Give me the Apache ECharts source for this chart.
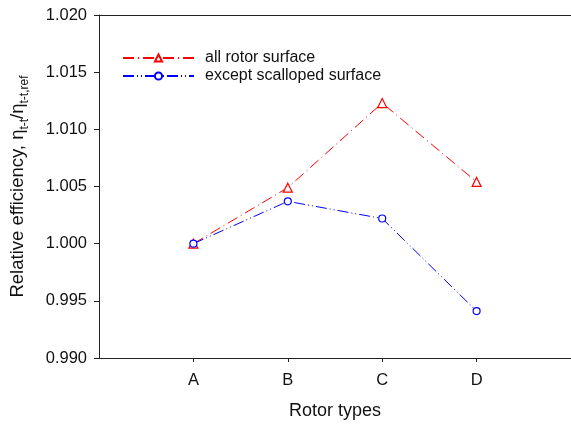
<!DOCTYPE html>
<html><head><meta charset="utf-8">
<script src="https://cdn.jsdelivr.net/npm/echarts@6/dist/echarts.min.js"></script>
<style>html,body{margin:0;padding:0;background:#fff;overflow:hidden}#c{width:571px;height:425px}</style>
</head><body><div id="c"></div>
<script>
const categories = ['A', 'B', 'C', 'D'];
const allRotor = [1.0000, 1.0049, 1.0123, 1.0054];
const exceptScalloped = [1.0000, 1.0037, 1.0022, 0.9941];
const yTicks = ['0.990', '0.995', '1.000', '1.005', '1.010', '1.015', '1.020'];
const seriesNames = ['all rotor surface', 'except scalloped surface'];

const toPts = arr => arr.map((v, i) => [i + 1, v]);
const font = 'Liberation Sans, Arial, sans-serif';
const chart = echarts.init(document.getElementById('c'), null, {renderer: 'canvas'});
chart.setOption({
  animation: false,
  backgroundColor: '#fff',
  grid: {left: 97, top: 15, width: 476, height: 344},
  legend: {
    left: 117, top: 45, orient: 'vertical', itemGap: 2, itemWidth: 71, itemHeight: 9,
    textStyle: {fontFamily: font, fontSize: 16, color: '#111', padding: [0, 0, 0, 6]},
    data: seriesNames
  },
  xAxis: [{
    type: 'value', min: 0, max: 5, interval: 1,
    axisLine: {lineStyle: {color: '#222', width: 1}},
    splitLine: {show: false},
    axisTick: {length: 4, lineStyle: {color: '#222'}, customValues: [1, 2, 3, 4]},
    axisLabel: {customValues: [1, 2, 3, 4], formatter: v => categories[v - 1] || '', fontFamily: font, fontSize: 16.5, color: '#111', margin: 14},
    name: 'Rotor types', nameLocation: 'middle', nameGap: 44,
    nameTextStyle: {fontFamily: font, fontSize: 18, color: '#111'}
  }, {
    type: 'value', position: 'top', min: 0, max: 5,
    axisLine: {show: true, lineStyle: {color: '#222', width: 1}},
    axisTick: {show: false}, axisLabel: {show: false}, splitLine: {show: false}
  }],
  yAxis: {
    type: 'value', min: 0.990, max: 1.020, interval: 0.005,
    axisLine: {show: true, lineStyle: {color: '#222', width: 1}},
    splitLine: {show: false},
    axisTick: {show: true, length: 5, lineStyle: {color: '#222'}},
    axisLabel: {formatter: v => yTicks[Math.round((v - 0.990) / 0.005)], fontFamily: font, fontSize: 16.5, color: '#111', margin: 12},
    name: '{m|Relative efficiency, η}{s|t-t}{m|/η}{s|t-t,ref}',
    nameLocation: 'middle', nameGap: 72, nameRotate: 90,
    nameTextStyle: {
      fontFamily: font, fontSize: 18.5, color: '#111',
      rich: {
        m: {fontFamily: font, fontSize: 18.5, color: '#111', verticalAlign: 'bottom', lineHeight: 24},
        s: {fontFamily: font, fontSize: 12, color: '#111', verticalAlign: 'bottom', lineHeight: 24, padding: [0, 0, -4, 0]}
      }
    }
  },
  series: [
    {
      name: seriesNames[0], type: 'line', data: toPts(allRotor),
      symbol: 'triangle', symbolSize: 9, showSymbol: true,
      lineStyle: {color: '#ff0000', width: 1, type: [11, 4, 1, 4]},
      itemStyle: {color: '#fff', borderColor: '#ff0000', borderWidth: 1.2}
    },
    {
      name: seriesNames[1], type: 'line', data: toPts(exceptScalloped),
      symbol: 'circle', symbolSize: 7, showSymbol: true,
      lineStyle: {color: '#0000ff', width: 1, type: [11, 3, 1, 3, 1, 3]},
      itemStyle: {color: '#fff', borderColor: '#0000ff', borderWidth: 1.2}
    }
  ]
});
</script></body></html>
